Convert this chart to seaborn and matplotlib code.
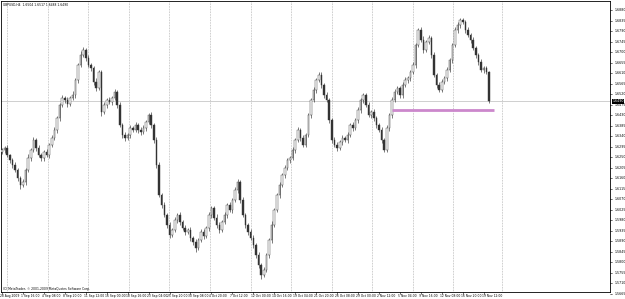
import matplotlib
matplotlib.use("Agg")
import matplotlib.pyplot as plt
import matplotlib.transforms as mtransforms
import seaborn as sns

# ---------------- data ----------------
title_text = "GBPUSD,H4  1.6504 1.6517 1.6488 1.6490"
copyright_text = "(C) MetaTrader, \u00a9 2001-2009 MetaQuotes Software Corp."

first_open = 1.6270
closes = [
    1.6280, 1.6289, 1.6259, 1.6237, 1.6216, 1.6194, 1.6160, 1.6130, 1.6143, 1.6194,
    1.6246, 1.6280, 1.6323, 1.6289, 1.6259, 1.6246, 1.6272, 1.6259, 1.6302, 1.6332,
    1.6366, 1.6417, 1.6473, 1.6503, 1.6494, 1.6477, 1.6503, 1.6516, 1.6580, 1.6644,
    1.6687, 1.6709, 1.6674, 1.6644, 1.6632, 1.6572, 1.6546, 1.6614, 1.6443, 1.6473,
    1.6494, 1.6486, 1.6503, 1.6529, 1.6473, 1.6387, 1.6344, 1.6332, 1.6344, 1.6374,
    1.6366, 1.6387, 1.6366, 1.6357, 1.6374, 1.6400, 1.6430, 1.6387, 1.6323, 1.6216,
    1.6087, 1.6044, 1.6002, 1.5959, 1.5916, 1.5937, 1.5980, 1.6002, 1.5972, 1.5946,
    1.5929, 1.5937, 1.5903, 1.5886, 1.5860, 1.5894, 1.5929, 1.5912, 1.5946, 1.6002,
    1.6032, 1.5989, 1.5959, 1.5937, 1.5972, 1.6002, 1.6044, 1.6023, 1.6066, 1.6109,
    1.6143, 1.6066, 1.6002, 1.5959, 1.5929, 1.5903, 1.5873, 1.5830, 1.5787, 1.5744,
    1.5766, 1.5830, 1.5894, 1.5959, 1.6023, 1.6087, 1.6130, 1.6173, 1.6203, 1.6237,
    1.6246, 1.6280, 1.6323, 1.6366, 1.6332, 1.6302, 1.6344, 1.6430, 1.6494, 1.6537,
    1.6580, 1.6602, 1.6559, 1.6516, 1.6494, 1.6409, 1.6323, 1.6302, 1.6289, 1.6314,
    1.6332, 1.6323, 1.6344, 1.6387, 1.6374, 1.6409, 1.6452, 1.6494, 1.6516, 1.6473,
    1.6430, 1.6443, 1.6417, 1.6387, 1.6366, 1.6323, 1.6280, 1.6374, 1.6430, 1.6494,
    1.6529, 1.6546, 1.6516, 1.6559, 1.6580, 1.6589, 1.6614, 1.6644, 1.6730, 1.6794,
    1.6752, 1.6709, 1.6743, 1.6760, 1.6687, 1.6602, 1.6559, 1.6537, 1.6572, 1.6589,
    1.6623, 1.6666, 1.6730, 1.6794, 1.6816, 1.6837, 1.6829, 1.6794, 1.6773, 1.6752,
    1.6717, 1.6687, 1.6657, 1.6623, 1.6632, 1.6614, 1.6490,
]
wick_up_pips = [
    10, 8, 12, 6, 9, 14, 7, 10, 12, 8,
    15, 9, 11, 7, 13, 10, 8, 12, 9, 14,
    11, 7, 10, 13, 8, 12, 9, 15, 10, 8,
    18, 12, 9, 14, 10, 8, 16, 11, 9, 13,
    10, 12, 8, 14, 9, 11, 7, 13, 10, 12,
    9, 15, 8, 11, 14, 10, 9, 12, 8, 13,
    11, 10, 14, 9, 12, 8, 15, 10, 11, 9,
    13, 8, 12, 10, 14, 9, 11, 13, 8, 12,
    10, 9, 15, 11, 8, 13, 10, 12, 9, 14,
    11, 8, 12, 10, 9, 13, 11, 8, 14, 10,
    12, 9, 11, 15, 8, 10, 13, 9, 12, 11,
    8, 14, 10, 12, 9, 13, 11, 8, 10, 15,
    9, 12, 11, 8, 14, 10, 9, 13, 12, 8,
    11, 10, 14, 9, 12, 8, 13, 11, 10, 9,
    15, 8, 12, 11, 9, 14, 10, 12, 8, 13,
    11, 9, 10, 14, 12, 8, 11, 13, 9, 10,
    12, 15, 8, 11, 10, 13, 9, 12, 14, 8,
    11, 10, 9, 13, 12, 8, 11, 10, 12, 9,
    14, 11, 8, 12, 10, 9, 6,
]
wick_dn_pips = [
    9, 12, 8, 11, 14, 10, 13, 16, 9, 11,
    8, 12, 10, 14, 9, 11, 13, 8, 12, 10,
    9, 13, 11, 8, 12, 14, 10, 9, 11, 12,
    8, 10, 13, 9, 12, 15, 11, 8, 18, 10,
    12, 9, 11, 8, 13, 10, 12, 14, 9, 11,
    10, 8, 12, 13, 9, 11, 10, 14, 12, 15,
    10, 12, 9, 13, 14, 10, 8, 11, 12, 9,
    13, 10, 12, 11, 15, 9, 10, 12, 8, 11,
    13, 9, 11, 12, 10, 8, 12, 9, 11, 10,
    14, 12, 10, 11, 13, 9, 12, 14, 11, 16,
    10, 9, 12, 11, 10, 8, 11, 9, 12, 10,
    11, 9, 12, 10, 13, 11, 9, 10, 12, 8,
    11, 10, 12, 14, 9, 13, 12, 10, 11, 9,
    12, 10, 11, 9, 13, 10, 12, 14, 11, 9,
    10, 13, 11, 12, 9, 14, 10, 8, 12, 11,
    10, 9, 11, 12, 10, 13, 11, 9, 12, 10,
    11, 12, 9, 10, 13, 11, 12, 10, 9, 11,
    12, 10, 11, 9, 12, 13, 10, 11, 9, 12,
    10, 11, 12, 9, 11, 10, 10,
]

time_labels = [
    "28 Aug 2009", "1 Sep 16:00", "4 Sep 08:00", "8 Sep 20:00", "11 Sep 12:00",
    "16 Sep 00:00", "18 Sep 16:00", "23 Sep 04:00", "25 Sep 20:00", "30 Sep 08:00",
    "4 Oct 20:00", "7 Oct 12:00", "12 Oct 00:00", "14 Oct 16:00", "19 Oct 04:00",
    "21 Oct 20:00", "26 Oct 08:00", "29 Oct 00:00", "2 Nov 12:00", "5 Nov 04:00",
    "9 Nov 16:00", "12 Nov 08:00", "16 Nov 20:00", "19 Nov 12:00",
]
price_label_top = 1.6880
price_label_step = 0.0045
price_label_count = 28

bid_price = 1.6490
trend_price = 1.6452
trend_start_bar = 149
trend_end_bar = 188

# ---------------- layout ----------------
W, H = 625, 299
DPI = 100
bars_per_label = 8
px_per_bar = 2.618
x0_px = 2.0
ax_left_px, ax_right_px = 1, 610
ax_top_px, ax_bot_px = 1, 292
price_at_px0 = 1.6923
price_per_px = 0.00042857
# weekly separators (pixel columns) and the end-of-data separator
grid_px = [7.3, 48.3, 88.3, 129.3, 169.3, 210.0, 250.7, 291.0, 331.5, 372.0, 413.0, 453.0, 502.0]

sns.set_style("white")
plt.rcParams["font.family"] = ["DejaVu Sans"]

fig = plt.figure(figsize=(W / DPI, H / DPI), dpi=DPI)
ax = fig.add_axes([ax_left_px / W, 1 - ax_bot_px / H,
                   (ax_right_px - ax_left_px) / W, (ax_bot_px - ax_top_px) / H])

n = len(closes)
xs = list(range(n))
opens = [first_open] + closes[:-1]
highs = [max(o, c) + u * 1e-4 for o, c, u in zip(opens, closes, wick_up_pips)]
lows = [min(o, c) - d * 1e-4 for o, c, d in zip(opens, closes, wick_dn_pips)]

xmin = (ax_left_px - x0_px) / px_per_bar
xmax = (ax_right_px - x0_px) / px_per_bar
ax.set_xlim(xmin, xmax)
ax.set_ylim(price_at_px0 - price_per_px * ax_bot_px, price_at_px0 - price_per_px * ax_top_px)

for gp in grid_px:
    ax.axvline((gp - x0_px) / px_per_bar, color="#a0a0a0", lw=0.5, ls=(0, (1, 1.3)), zorder=0)

ax.axhline(bid_price, color="#c8c8c8", lw=0.6, zorder=1)

ax.vlines(xs, lows, highs, color="#333333", lw=0.45, zorder=2)
bodies_b = [min(o, c) for o, c in zip(opens, closes)]
bodies_h = [max(abs(c - o), 0.00008) for o, c in zip(opens, closes)]
face = ["white" if c >= o else "#333333" for o, c in zip(opens, closes)]
ax.bar(xs, bodies_h, bottom=bodies_b, width=0.6, color=face,
       edgecolor="#333333", linewidth=0.3, zorder=3)

ax.hlines(trend_price, trend_start_bar, trend_end_bar, color="#cc88cc", lw=2.0, zorder=4)

for s in ax.spines.values():
    s.set_color("#000000")
    s.set_linewidth(0.6)
ax.set_xticks([])
ax.set_yticks([])

fs_x = 2.15
fs_y = 2.3
xtr = mtransforms.blended_transform_factory(ax.transData, ax.transAxes)
for k, lab in enumerate(time_labels):
    xb = k * bars_per_label
    ax.text(xb - 0.8, -0.006, lab, transform=xtr, fontsize=fs_x, ha="left", va="top",
            color="#000000", clip_on=False)
    ax.plot([xb, xb], [0, -0.008], transform=xtr, color="#000000", lw=0.4, clip_on=False)

ytr = mtransforms.blended_transform_factory(ax.transAxes, ax.transData)
for i in range(price_label_count):
    p = price_label_top - i * price_label_step
    ax.text(1.007, p, f"{p:.4f}", transform=ytr, fontsize=fs_y, ha="left", va="center",
            color="#000000", clip_on=False)
    ax.plot([1.0, 1.004], [p, p], transform=ytr, color="#000000", lw=0.4, clip_on=False)

ax.text(1.004, bid_price, f"{bid_price:.4f}", transform=ytr, fontsize=fs_y, ha="left", va="center",
        color="white", clip_on=False, zorder=10,
        bbox=dict(boxstyle="square,pad=0.15", fc="black", ec="black", lw=0))

ax.text(0.003, 0.993, title_text, transform=ax.transAxes, fontsize=fs_x, ha="left", va="top", color="#000000")
ax.text(0.003, 0.005, copyright_text, transform=ax.transAxes, fontsize=fs_x, ha="left", va="bottom", color="#000000")

fig.savefig("out.png", dpi=DPI)
